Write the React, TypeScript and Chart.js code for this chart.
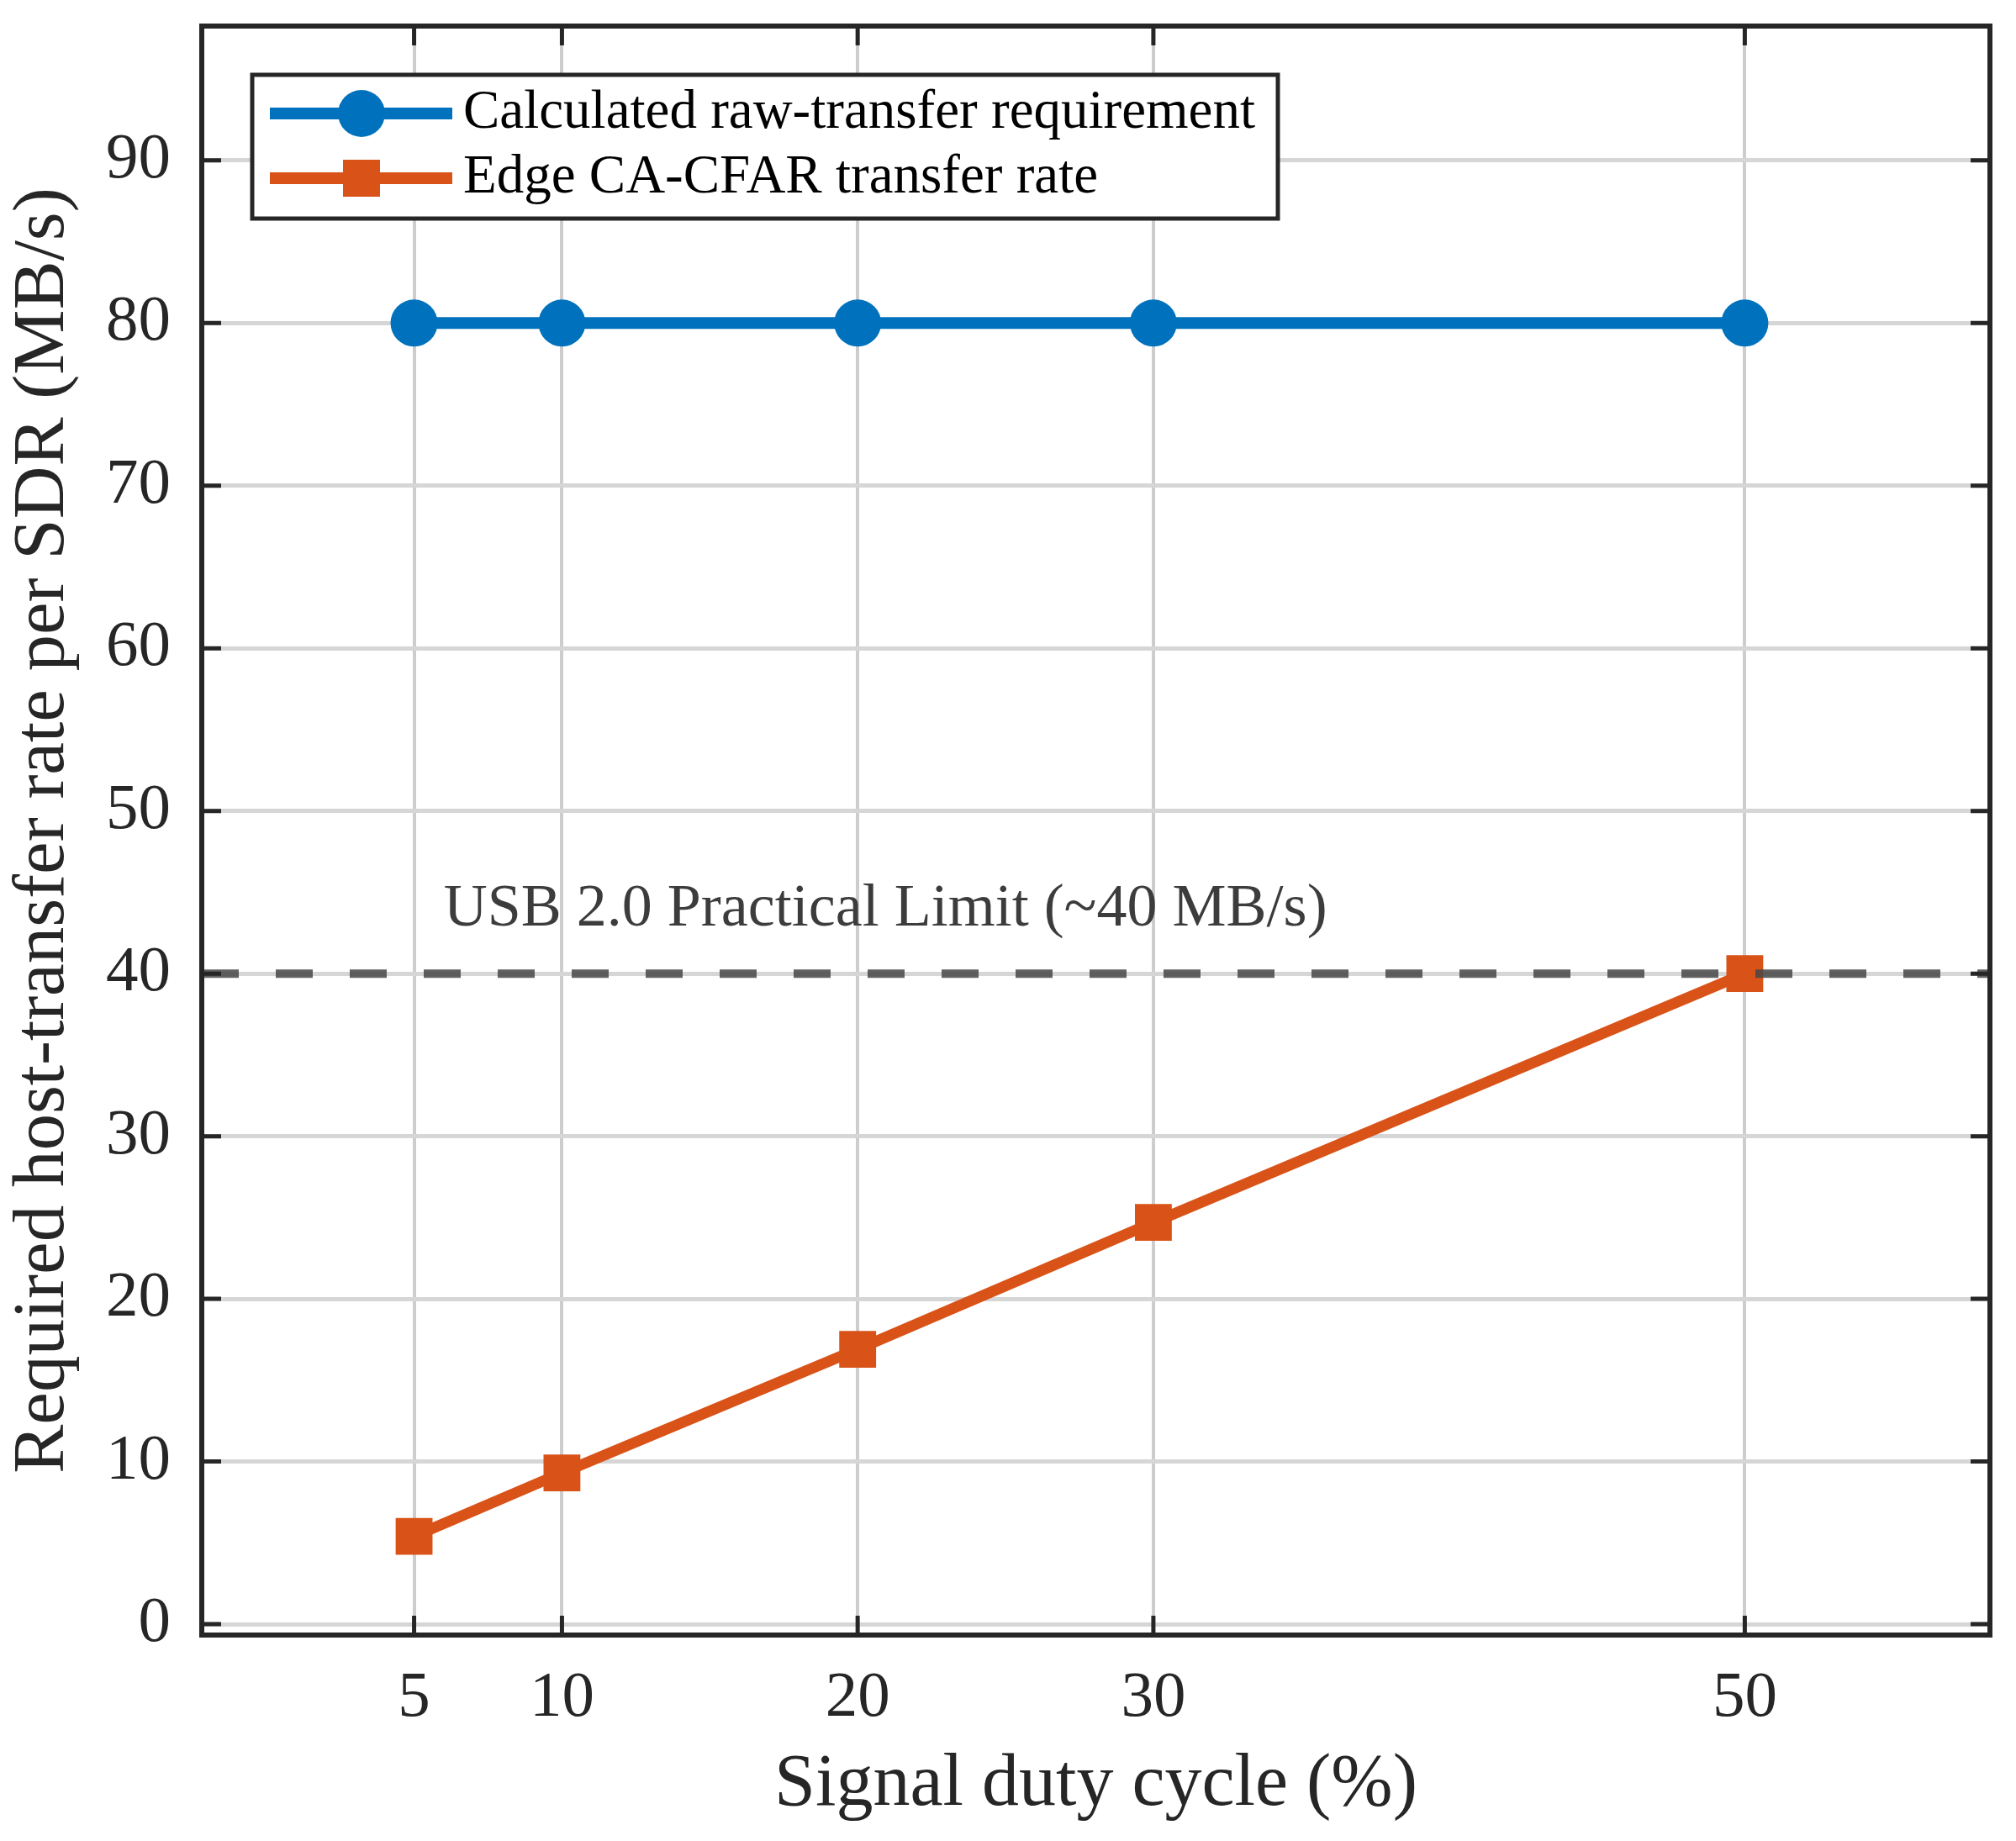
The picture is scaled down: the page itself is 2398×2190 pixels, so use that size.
import { useEffect, useRef } from "react"
import { Chart, registerables } from "chart.js"

Chart.register(...registerables)

// số liệu
const dutyCycle = [5, 10, 20, 30, 50]
const rawTransfer = [80, 80, 80, 80, 80]
const edgeCfar = [5.4, 9.3, 16.9, 24.7, 40]
const xTicks = [5, 10, 20, 30, 50]
const yTicks = [0, 10, 20, 30, 40, 50, 60, 70, 80, 90]
const usbLimit = 40
const usbLabel = "USB 2.0 Practical Limit (~40 MB/s)"
const usbLabelX = 6

const seriesLabels = ["Calculated raw-transfer requirement", "Edge CA-CFAR transfer rate"]
const seriesColors = ["#0072BD", "#D95319"]

const SERIF = "'Liberation Serif', 'Times New Roman', Times, serif"
const AXIS = "#262626"

const framePlugin = {
  id: "matlabFrame",
  afterDatasetsDraw(chart: any) {
    const { ctx, chartArea: a, scales } = chart
    const x = scales.x
    const y = scales.y

    // đường giới hạn USB
    const yl = y.getPixelForValue(usbLimit)
    ctx.save()
    ctx.strokeStyle = "rgba(70,70,70,0.85)"
    ctx.lineWidth = 10
    ctx.setLineDash([44, 44])
    ctx.beginPath()
    ctx.moveTo(a.left, yl)
    ctx.lineTo(a.right, yl)
    ctx.stroke()
    ctx.setLineDash([])

    ctx.fillStyle = "#3c3c3c"
    ctx.font = `72px ${SERIF}`
    ctx.textAlign = "left"
    ctx.textBaseline = "alphabetic"
    ctx.fillText(usbLabel, x.getPixelForValue(usbLabelX), yl - 57)

    // vạch chia hướng vào trong
    ctx.strokeStyle = AXIS
    ctx.lineWidth = 5
    ctx.beginPath()
    for (const v of xTicks) {
      const px = x.getPixelForValue(v)
      ctx.moveTo(px, a.bottom)
      ctx.lineTo(px, a.bottom - 23)
      ctx.moveTo(px, a.top)
      ctx.lineTo(px, a.top + 23)
    }
    for (const v of yTicks) {
      const py = y.getPixelForValue(v)
      ctx.moveTo(a.left, py)
      ctx.lineTo(a.left + 23, py)
      ctx.moveTo(a.right, py)
      ctx.lineTo(a.right - 23, py)
    }
    ctx.stroke()

    ctx.lineWidth = 6
    ctx.strokeRect(a.left, a.top, a.right - a.left, a.bottom - a.top)
    ctx.restore()
  },
  afterDraw(chart: any) {
    const { ctx } = chart
    ctx.save()
    // khung chú thích
    ctx.fillStyle = "#ffffff"
    ctx.fillRect(300, 89, 1220, 171)
    ctx.strokeStyle = AXIS
    ctx.lineWidth = 5
    ctx.strokeRect(300, 89, 1220, 171)

    const rows = [135, 212]
    rows.forEach((ry, i) => {
      ctx.strokeStyle = seriesColors[i]
      ctx.fillStyle = seriesColors[i]
      ctx.lineWidth = 14
      ctx.beginPath()
      ctx.moveTo(321, ry)
      ctx.lineTo(538, ry)
      ctx.stroke()
      if (i === 0) {
        ctx.beginPath()
        ctx.arc(430, ry, 28, 0, Math.PI * 2)
        ctx.fill()
      } else {
        ctx.fillRect(430 - 22, ry - 22, 44, 44)
      }
      ctx.fillStyle = "#000000"
      ctx.font = `65px ${SERIF}`
      ctx.textAlign = "left"
      ctx.textBaseline = "middle"
      ctx.fillText(seriesLabels[i], 551, ry)
    })
    ctx.restore()
  },
}

function DutyCycleChart() {
  const chartRef = useRef<HTMLCanvasElement>(null)
  const chartInstance = useRef<Chart | null>(null)

  useEffect(() => {
    if (!chartRef.current) return
    if (chartInstance.current) {
      chartInstance.current.destroy()
    }
    const ctx = chartRef.current.getContext("2d")
    if (!ctx) return

    chartInstance.current = new Chart(ctx, {
      type: "line",
      data: {
        datasets: [
          {
            label: seriesLabels[0],
            data: dutyCycle.map((d, i) => ({ x: d, y: rawTransfer[i] })),
            borderColor: seriesColors[0],
            backgroundColor: seriesColors[0],
            borderWidth: 14,
            pointStyle: "circle",
            pointRadius: 28,
            pointBorderWidth: 0,
            pointBackgroundColor: seriesColors[0],
          },
          {
            label: seriesLabels[1],
            data: dutyCycle.map((d, i) => ({ x: d, y: edgeCfar[i] })),
            borderColor: seriesColors[1],
            backgroundColor: seriesColors[1],
            borderWidth: 13,
            pointStyle: "rect",
            pointRadius: 31,
            pointBorderWidth: 0,
            pointBackgroundColor: seriesColors[1],
          },
        ],
      },
      options: {
        responsive: false,
        animation: false,
        devicePixelRatio: 1,
        layout: { padding: { top: 28, right: 28, left: 0, bottom: 0 } },
        plugins: {
          legend: { display: false },
          tooltip: { enabled: false },
        },
        scales: {
          x: {
            type: "linear",
            min: -2.18,
            max: 58.29,
            afterBuildTicks: (scale: any) => {
              scale.ticks = xTicks.map((v) => ({ value: v }))
            },
            afterFit: (scale: any) => {
              scale.height = 245
              scale.paddingLeft = 0
              scale.paddingRight = 0
            },
            grid: { color: "#cdcdcd", lineWidth: 4, drawTicks: false },
            border: { display: false },
            ticks: {
              autoSkip: false,
              maxRotation: 0,
              padding: 30,
              color: AXIS,
              font: { family: SERIF, size: 77, lineHeight: 1.2 },
              callback: (v: any) => String(v),
            },
            title: {
              display: true,
              text: "Signal duty cycle (%)",
              color: AXIS,
              font: { family: SERIF, size: 88, lineHeight: 1.2 },
              padding: { top: 0, bottom: 13 },
            },
          },
          y: {
            type: "linear",
            min: -0.67,
            max: 98.26,
            afterBuildTicks: (scale: any) => {
              scale.ticks = yTicks.map((v) => ({ value: v }))
            },
            afterFit: (scale: any) => {
              scale.width = 240
              scale.paddingTop = 0
              scale.paddingBottom = 0
            },
            grid: { color: "#d6d6d6", lineWidth: 5, drawTicks: false },
            border: { display: false },
            ticks: {
              padding: 37,
              color: AXIS,
              font: { family: SERIF, size: 77, lineHeight: 1.2 },
              callback: (v: any) => String(v),
            },
            title: {
              display: true,
              text: "Required host-transfer rate per SDR (MB/s)",
              color: AXIS,
              font: { family: SERIF, size: 87, lineHeight: 1.2 },
              padding: { top: 0, bottom: 0 },
            },
          },
        },
      },
      plugins: [framePlugin],
    })

    return () => {
      if (chartInstance.current) {
        chartInstance.current.destroy()
        chartInstance.current = null
      }
    }
  }, [])

  return <canvas ref={chartRef} width={2398} height={2190} style={{ width: 2398, height: 2190, display: "block" }} />
}

export default function App() {
  return (
    <div style={{ position: "absolute", left: 0, top: 0, width: 2398, height: 2190, background: "#ffffff" }}>
      <DutyCycleChart />
    </div>
  )
}
